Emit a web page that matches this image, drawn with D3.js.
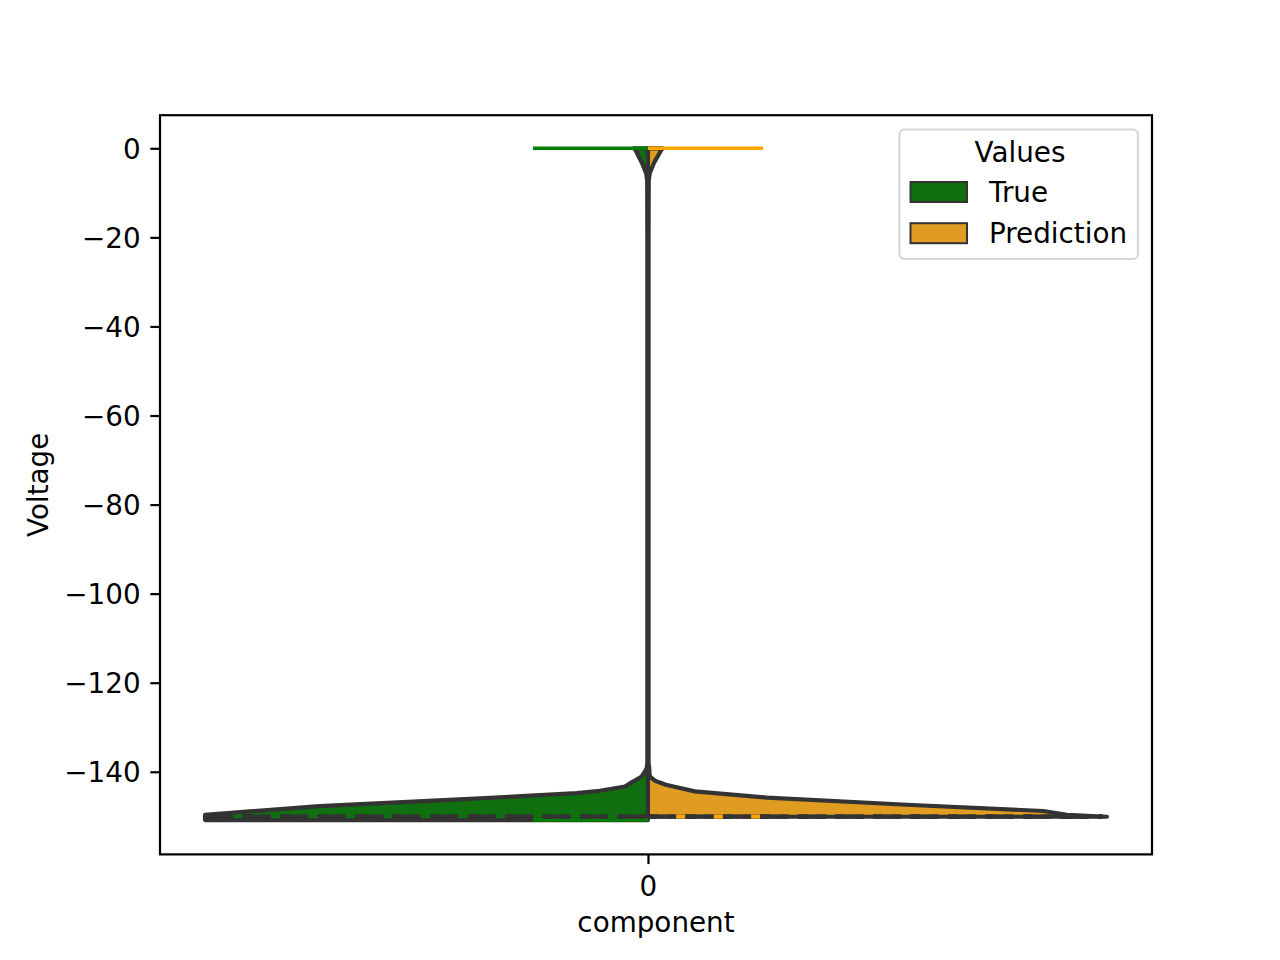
<!DOCTYPE html>
<html>
<head>
<meta charset="utf-8">
<script src="https://cdn.jsdelivr.net/npm/d3@7"></script>
<style>
  html, body { margin: 0; padding: 0; background: #ffffff; }
  svg { display: block; }
  text { font-family: "DejaVu Sans", sans-serif; fill: #000; }
</style>
</head>
<body>
<svg id="chart" width="1280" height="960"></svg>
<script>
// ---------------- data ----------------
const categories = ["0"];
const hueLabels = ["True", "Prediction"];
const yTicks = [0, -20, -40, -60, -80, -100, -120, -140];

// kernel density profile (relative density) of each half of the split violin
const trueVoltage = [0, -0.4, -1.5, -3.3, -5.6, -7.2, -20, -138, -139.2, -139.9, -141.05, -142.6, -143.3, -144.27, -144.8, -146.1, -147.7, -149.65, -150.85];
const trueDensity = [0.031, 0.027, 0.022, 0.013, 0.004, 0.0017, 0.0013, 0.0013, 0.0028, 0.0065, 0.0137, 0.039, 0.05, 0.105, 0.155, 0.388, 0.715, 0.965, 0.965];

const predVoltage = [0, -0.4, -1.5, -3.3, -5.6, -7.2, -20, -138, -139.2, -140.2, -141.05, -142.0, -142.9, -144.4, -145.8, -147.4, -148.8, -149.65, -150.1];
const predDensity = [0.033, 0.029, 0.023, 0.013, 0.004, 0.0017, 0.0013, 0.0013, 0.0028, 0.0033, 0.0044, 0.015, 0.039, 0.102, 0.259, 0.564, 0.861, 0.913, 1.0];

// quartiles (q25, median, q75) and individual observation sticks
const trueQuartiles = [-150.05, -150.05, -150.05];
const predQuartiles = [-150.05, -150.05, -150.05];
const trueSticks = [0, -150.85];
const predSticks = [0, -150.1];

(function () {
// ---------------- styling ----------------
const FONT = 27.8;
const fillColors = { "True": "#107010", "Prediction": "#df9c20" };
const stickColors = { "True": "#008000", "Prediction": "#ffa500" };
const GRAY = "#333333";
const LW = 4.17;

const svg = d3.select("#chart");
const pLeft = 160, pRight = 1152, pTop = 115.2, pBottom = 854.4;

const x = d3.scaleLinear().domain([-0.4919, 0.5081]).range([pLeft, pRight]);
const y = d3.scaleLinear().domain([-158.55, 7.43]).range([pBottom, pTop]);
const w = d3.scaleLinear().domain([0, 1]).range([0, 0.4627]);
const stickHalf = 0.116;
const center = 0;

function densityAt(vs, ds, v) {
  for (let i = 0; i < vs.length - 1; i++) {
    const a = vs[i], b = vs[i + 1];
    if (v <= a && v >= b) {
      const t = (a - v) / (a - b);
      return ds[i] + t * (ds[i + 1] - ds[i]);
    }
  }
  return ds[ds.length - 1];
}

const plot = svg.append("g");

function halfPath(vs, ds, sign) {
  const pts = [[x(center), y(vs[0])]];
  vs.forEach((v, i) => pts.push([x(center + sign * w(ds[i])), y(v)]));
  pts.push([x(center), y(vs[vs.length - 1])]);
  return d3.line()(pts) + "Z";
}

// violins
plot.append("path")
  .attr("d", halfPath(trueVoltage, trueDensity, -1))
  .attr("fill", fillColors["True"])
  .attr("stroke", GRAY).attr("stroke-width", LW).attr("stroke-linejoin", "round");
plot.append("path")
  .attr("d", halfPath(predVoltage, predDensity, 1))
  .attr("fill", fillColors["Prediction"])
  .attr("stroke", GRAY).attr("stroke-width", LW).attr("stroke-linejoin", "round");

// sticks
trueSticks.forEach(v => {
  plot.append("line")
    .attr("x1", x(center - stickHalf)).attr("x2", x(center))
    .attr("y1", y(v)).attr("y2", y(v))
    .attr("stroke", stickColors["True"]).attr("stroke-width", 3.5);
});
predSticks.forEach(v => {
  plot.append("line")
    .attr("x1", x(center)).attr("x2", x(center + stickHalf))
    .attr("y1", y(v)).attr("y2", y(v))
    .attr("stroke", stickColors["Prediction"]).attr("stroke-width", 3.5);
});

// quartile lines
function quartLines(qs, vs, ds, sign) {
  qs.forEach((q, i) => {
    const d = densityAt(vs, ds, q);
    const xa = sign < 0 ? x(center - w(d)) : x(center);
    const xb = sign < 0 ? x(center) : x(center + w(d));
    const dash = i === 1 ? "18.75,18.75" : "9.375,9.375";
    plot.append("line")
      .attr("x1", xa).attr("x2", xb)
      .attr("y1", y(q)).attr("y2", y(q))
      .attr("stroke", GRAY).attr("stroke-width", LW)
      .attr("stroke-dasharray", dash);
  });
}
quartLines(trueQuartiles, trueVoltage, trueDensity, -1);
quartLines(predQuartiles, predVoltage, predDensity, 1);

// axes
const yAxis = d3.axisLeft(y).tickValues(yTicks).tickSize(9.7).tickPadding(9.7)
  .tickFormat(d => (d < 0 ? "\u2212" + Math.abs(d) : String(d)));
const gy = svg.append("g").attr("transform", `translate(${pLeft},0)`).call(yAxis);
gy.select(".domain").remove();
gy.selectAll(".tick line").attr("stroke", "#000").attr("stroke-width", 2.2);
gy.selectAll(".tick text").attr("font-size", FONT).attr("font-family", "DejaVu Sans")
  .attr("dy", null).attr("y", 10.2).attr("fill", "#000");

const xBand = d3.scalePoint().domain(categories).range([x(0), x(0)]);
const xAxis = d3.axisBottom(xBand).tickSize(9.7).tickPadding(9.7);
const gx = svg.append("g").attr("transform", `translate(0,${pBottom})`).call(xAxis);
gx.select(".domain").remove();
gx.selectAll(".tick line").attr("stroke", "#000").attr("stroke-width", 2.2);
gx.selectAll(".tick text").attr("font-size", FONT).attr("font-family", "DejaVu Sans")
  .attr("dy", null).attr("y", 41.5).attr("fill", "#000");

// frame
svg.append("rect")
  .attr("x", pLeft).attr("y", pTop).attr("width", pRight - pLeft).attr("height", pBottom - pTop)
  .attr("fill", "none").attr("stroke", "#000").attr("stroke-width", 2.2);

// axis labels
svg.append("text").attr("x", (pLeft + pRight) / 2).attr("y", 931.7)
  .attr("text-anchor", "middle").attr("font-size", FONT).text("component");
svg.append("text")
  .attr("transform", `translate(47.8,${(pTop + pBottom) / 2}) rotate(-90)`)
  .attr("text-anchor", "middle").attr("font-size", FONT).text("Voltage");

// legend
const lg = svg.append("g");
lg.append("rect").attr("x", 899.5).attr("y", 129.5).attr("width", 238.5).attr("height", 129.5)
  .attr("rx", 5).attr("fill", "#ffffff").attr("fill-opacity", 0.8)
  .attr("stroke", "#cccccc").attr("stroke-opacity", 0.8).attr("stroke-width", 2.2);
lg.append("text").attr("x", 1020).attr("y", 161.7).attr("text-anchor", "middle")
  .attr("font-size", FONT).text("Values");
hueLabels.forEach((lab, i) => {
  const yy = 182 + i * 41.2;
  lg.append("rect").attr("x", 910.5).attr("y", yy).attr("width", 56.5).attr("height", 20)
    .attr("fill", fillColors[lab]).attr("stroke", GRAY).attr("stroke-width", 2);
  lg.append("text").attr("x", 989).attr("y", yy + 19.7).attr("font-size", FONT).text(lab);
});
})();
</script>
</body>
</html>
